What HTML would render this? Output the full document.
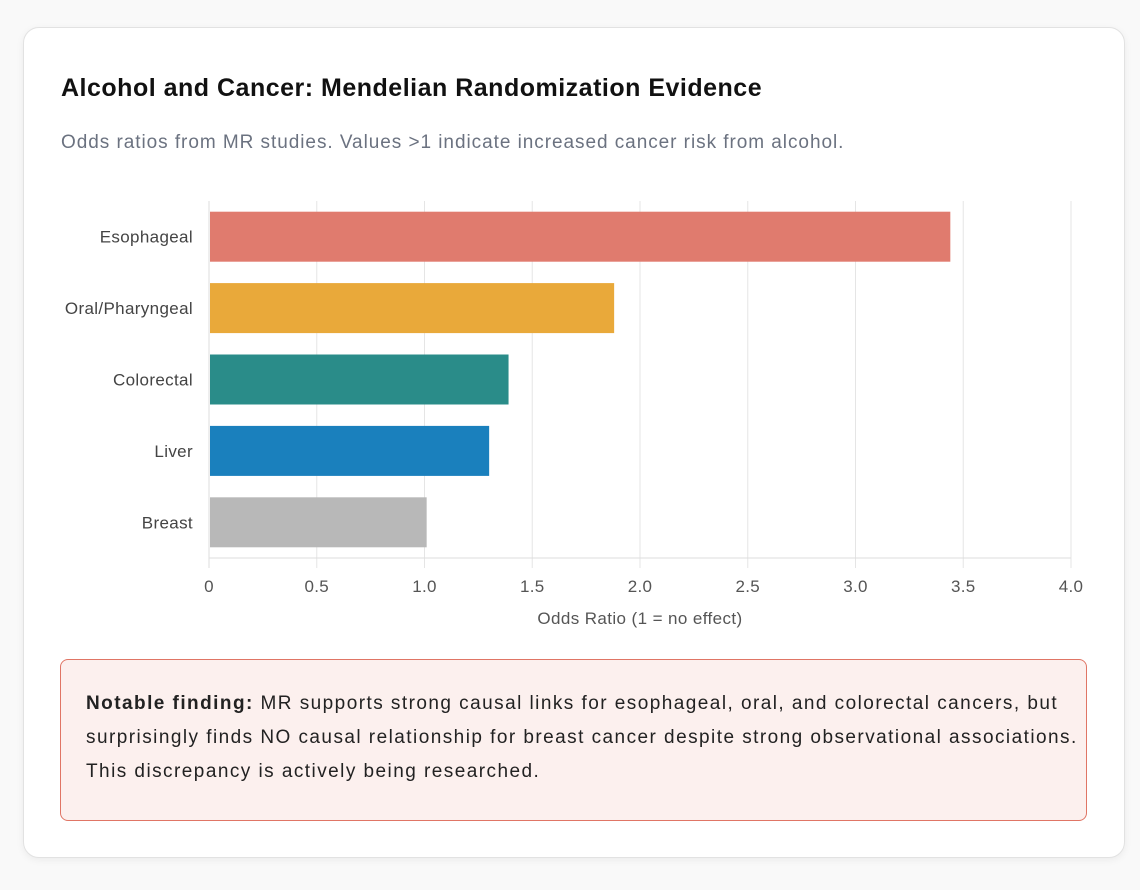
<!DOCTYPE html>
<html><head><meta charset="utf-8">
<style>
body{margin:0;width:1140px;height:890px;background:#f9f9f9;font-family:"Liberation Sans",sans-serif;position:relative;overflow:hidden}
#card{position:absolute;left:23px;top:27px;width:1100px;height:829px;background:#fff;border:1px solid #e2e2e2;border-radius:16px;box-shadow:0 2px 8px rgba(0,0,0,0.06)}
h1{position:absolute;left:37px;top:46px;margin:0;font-size:25px;letter-spacing:0.5px;font-weight:bold;color:#111;white-space:nowrap}
#sub{position:absolute;left:37px;top:104px;font-size:19px;letter-spacing:0.95px;color:#6b7280;white-space:nowrap}
svg{position:absolute;left:0;top:0}
#note{position:absolute;left:36px;top:631px;width:1027px;height:162px;box-sizing:border-box;background:#fcf0ee;border:1px solid #e07565;border-radius:8px;padding:27px 25px;font-size:19px;letter-spacing:1.45px;line-height:34px;color:#222;white-space:nowrap}
</style></head><body>
<div id="card">
<h1>Alcohol and Cancer: Mendelian Randomization Evidence</h1>
<div id="sub">Odds ratios from MR studies. Values &gt;1 indicate increased cancer risk from alcohol.</div>
<div id="note"><b>Notable finding:</b> MR supports strong causal links for esophageal, oral, and colorectal cancers, but<br>surprisingly finds NO causal relationship for breast cancer despite strong observational associations.<br>This discrepancy is actively being researched.</div>
</div>
<svg id="chart" width="1140" height="650"></svg>
<script>
const categories=["Esophageal","Oral/Pharyngeal","Colorectal","Liver","Breast"];
const values=[3.44,1.88,1.39,1.30,1.01];
const colors=["#e07b6e","#e9a93a","#2a8c89","#1a80bd","#b8b8b8"];
const ticks=[0,0.5,1.0,1.5,2.0,2.5,3.0,3.5,4.0];
const tickLabels=["0","0.5","1.0","1.5","2.0","2.5","3.0","3.5","4.0"];
const svg=document.getElementById('chart');const NS="http://www.w3.org/2000/svg";
const x0=209,x1=1071,y0=201,y1=558,xmax=4;
const xs=v=>x0+(x1-x0)*v/xmax;
const band=(y1-y0)/categories.length;
const F='Liberation Sans, sans-serif';
function mk(t,a){const e=document.createElementNS(NS,t);for(const k in a)e.setAttribute(k,a[k]);svg.appendChild(e);return e;}
ticks.forEach((t,i)=>{
 const g=mk('line',{x1:xs(t),x2:xs(t),y1:y0,y2:y1+10,stroke:'#e5e5e5','stroke-width':1});
 
 
 const l=mk('text',{x:xs(t),y:y1+34,'text-anchor':'middle','font-size':17,'letter-spacing':0.3,fill:'#555','font-family':F});
 l.textContent=tickLabels[i];
 
 
});
const ax=mk('line',{x1:x0,x2:x1,y1:y1,y2:y1,stroke:'#ddd','stroke-width':1});


const ay=mk('line',{x1:x0,x2:x0,y1:y0,y2:y1+10,stroke:'#ddd','stroke-width':1});


categories.forEach((c,i)=>{
 const yc=y0+band*(i+0.5);
 const r=mk('rect',{x:x0+1,y:yc-25,width:xs(values[i])-x0-1,height:50,fill:colors[i]});
 
 
 const t=mk('text',{x:x0-16,y:yc+6,'text-anchor':'end','font-size':17,'letter-spacing':0.35,fill:'#444','font-family':F});
 t.textContent=c;
 
 
});
const xt=mk('text',{x:640,y:624,'text-anchor':'middle','font-size':17,'letter-spacing':0.4,fill:'#555','font-family':F});
xt.textContent="Odds Ratio (1 = no effect)";


</script>
</body></html>
